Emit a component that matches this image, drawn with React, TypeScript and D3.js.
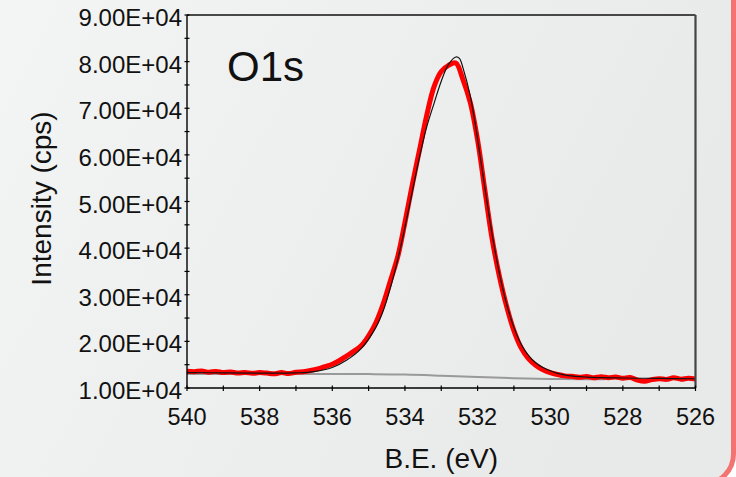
import React from "react";
import * as d3 from "d3";

// Binding energy grid (eV) for the measured spectrum
const measuredBE = [
  540.0, 539.8, 539.6, 539.4, 539.2, 539.0, 538.8, 538.6, 538.4, 538.2,
  538.0, 537.8, 537.6, 537.4, 537.2, 537.0, 536.8, 536.6, 536.4, 536.2,
  536.0, 535.8, 535.6, 535.4, 535.2, 535.0, 534.8, 534.6, 534.4, 534.2,
  534.0, 533.8, 533.6, 533.4, 533.2, 533.0, 532.8, 532.6, 532.4, 532.2,
  532.0, 531.8, 531.6, 531.4, 531.2, 531.0, 530.8, 530.6, 530.4, 530.2,
  530.0, 529.8, 529.6, 529.4, 529.2, 529.0, 528.8, 528.6, 528.4, 528.2,
  528.0, 527.8, 527.6, 527.4, 527.2, 527.0, 526.8, 526.6, 526.4, 526.2,
  526.0,
];

// Measured O1s intensity (cps)
const measuredCps = [
  13600, 13500, 13650, 13400, 13550, 13300, 13450, 13200, 13350, 13150,
  13300, 13200, 13050, 13300, 13100, 13400, 13500, 13750, 14100, 14600,
  15100, 15900, 16900, 17900, 19100, 21200, 24000, 28000, 33000, 38100,
  45500, 53500, 61000, 68500, 74600, 77900, 79200, 79700, 76100, 71200,
  63200, 52500, 42000, 34000, 27500, 22300, 18600, 16300, 14900, 13900,
  13300, 12900, 12600, 12500, 12300, 12450, 12200, 12400, 12200, 12350,
  12100, 12250, 11700, 11450, 11800, 12000, 11850, 12200, 11900, 12100,
  11950,
];

// Fitted envelope
const fitBE = [
  540.0, 539.0, 538.0, 537.0, 536.5, 536.0, 535.6, 535.2, 534.8, 534.6,
  534.4, 534.2, 534.0, 533.8, 533.6, 533.4, 533.2, 533.0, 532.8, 532.6,
  532.5, 532.4, 532.2, 532.0, 531.8, 531.6, 531.4, 531.2, 531.0, 530.8,
  530.6, 530.4, 530.2, 530.0, 529.8, 529.5, 529.0, 528.0, 527.0, 526.0,
];
const fitCps = [
  13300, 13250, 13200, 13250, 13500, 14400, 16000, 18500, 23000, 26500,
  31500, 37500, 44500, 52000, 59500, 66000, 71000, 75800, 79400, 81000,
  80700, 78600, 72600, 63400, 53000, 43000, 34600, 28000, 23000, 19400,
  17000, 15400, 14400, 13700, 13150, 12650, 12350, 12150, 12050, 11980,
];

// Shirley-type background
const bgBE = [540.0, 536.0, 535.0, 534.0, 533.0, 532.0, 531.0, 530.0, 529.0, 528.5];
const bgCps = [13000, 13000, 12980, 12900, 12650, 12350, 12100, 11950, 11880, 11860];

const xTicks = [540, 538, 536, 534, 532, 530, 528, 526];
const yTicks = [10000, 20000, 30000, 40000, 50000, 60000, 70000, 80000, 90000];

const W = 736;
const H = 477;
const FONT = "'Liberation Sans', Arial, sans-serif";

export default function App() {
  const x = d3.scaleLinear().domain([540, 526]).range([187, 695.5]);
  const y = d3.scaleLinear().domain([10000, 90000]).range([388, 15]);

  const minorX = d3.range(540, 525.5, -1);
  const minorY = d3.range(10000, 90001, 5000);

  const line = d3
    .line<[number, number]>()
    .x((d) => x(d[0]))
    .y((d) => y(d[1]))
    .curve(d3.curveCatmullRom.alpha(0.5));

  const measured = line(measuredBE.map((e, i) => [e, measuredCps[i]]) as [number, number][]) || "";
  const fit = line(fitBE.map((e, i) => [e, fitCps[i]]) as [number, number][]) || "";
  const bg = line(bgBE.map((e, i) => [e, bgCps[i]]) as [number, number][]) || "";

  const fmt = (v: number) => (v / 10000).toFixed(2) + "E+04";

  const [x0, x1] = x.range();
  const [yb, yt] = y.range();

  return (
    <svg
      width={W}
      height={H}
      style={{ position: "absolute", left: 0, top: 0, background: "#ffffff" }}
      fontFamily={FONT}
    >
      <defs>
        <linearGradient id="panelFill" x1="0" y1="0" x2="1" y2="0.35">
          <stop offset="0" stopColor="#f4f5f5" />
          <stop offset="1" stopColor="#e8e9e9" />
        </linearGradient>
      </defs>
      <rect
        x={-40}
        y={-40}
        width={773.5}
        height={524}
        rx={30}
        ry={30}
        fill="url(#panelFill)"
        stroke="#f37373"
        strokeWidth={5}
      />

      {/* background, fit and measured spectrum */}
      <path d={bg} fill="none" stroke="#999999" strokeWidth={2} />
      <path d={measured} fill="none" stroke="#ff0000" strokeWidth={5} strokeLinejoin="round" />
      <path d={fit} fill="none" stroke="#111111" strokeWidth={1.2} />

      {/* frame */}
      <line x1={x0} x2={x1} y1={yt} y2={yt} stroke="#111" strokeWidth={1.3} />
      <line x1={x1} x2={x1} y1={yt} y2={yb} stroke="#444" strokeWidth={2.2} />
      <line x1={x0} x2={x0} y1={yt} y2={yb} stroke="#000" strokeWidth={1.4} />
      <line x1={x0} x2={x1} y1={yb} y2={yb} stroke="#000" strokeWidth={1.4} />

      {/* ticks */}
      {minorY.map((v) => (
        <line key={"yt" + v} x1={x0 - 2.5} x2={x0 + 2.5} y1={y(v)} y2={y(v)} stroke="#000" strokeWidth={1.2} />
      ))}
      {minorX.map((v) => (
        <line key={"xt" + v} x1={x(v)} x2={x(v)} y1={yb - 2.5} y2={yb + 3} stroke="#000" strokeWidth={1.2} />
      ))}

      {/* tick labels */}
      {yTicks.map((v) => (
        <text key={"yl" + v} x={182} y={y(v) + 11} textAnchor="end" fontSize={24} fill="#111">
          {fmt(v)}
        </text>
      ))}
      {xTicks.map((v) => (
        <text key={"xl" + v} x={x(v)} y={425} textAnchor="middle" fontSize={23.5} fill="#111">
          {v}
        </text>
      ))}

      {/* titles */}
      <text x={(x0 + x1) / 2} y={468} textAnchor="middle" fontSize={28} fill="#111">
        B.E. (eV)
      </text>
      <text
        transform={`translate(51, ${(yt + yb) / 2 - 3}) rotate(-90)`}
        textAnchor="middle"
        fontSize={28}
        fill="#111"
      >
        Intensity (cps)
      </text>
      <text x={227} y={81} fontSize={42} fill="#111">
        O1s
      </text>
    </svg>
  );
}
